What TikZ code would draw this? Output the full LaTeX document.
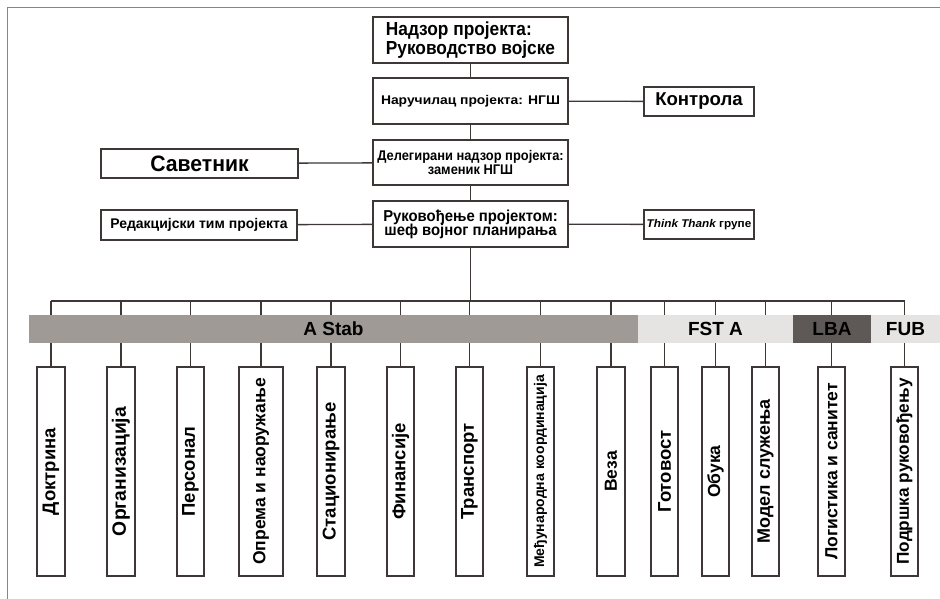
\documentclass[tikz,border=0pt]{standalone}
\usepackage{fontspec}
\setmainfont{Liberation Sans}
\newfontfamily\fsA[FakeStretch=0.915]{Liberation Sans}
\newfontfamily\fsB[FakeStretch=1.10]{Liberation Sans}
\newfontfamily\fsC[FakeStretch=0.92]{Liberation Sans}
\newfontfamily\fsD[FakeStretch=0.94]{Liberation Sans}
\newfontfamily\fsE[FakeStretch=0.95]{Liberation Sans}
\newfontfamily\fsF[FakeStretch=1.05]{Liberation Sans}
\newcommand\tightls{\lineskiplimit=-30pt\relax}
\definecolor{ln}{HTML}{3D3735}
\definecolor{frm}{HTML}{8A8580}
\definecolor{astab}{HTML}{A09A96}
\definecolor{light}{HTML}{E6E4E2}
\definecolor{lba}{HTML}{5E5956}
\tikzset{
  box/.style={draw=ln,line width=1.3pt,fill=white,inner sep=0pt,align=center,font=\bfseries},
  vbox/.style={box,minimum height=209pt},
  vtext/.style={rotate=90,inner sep=0pt,font=\bfseries},
  conn/.style={draw=ln,line width=1.3pt},
  band/.style={inner sep=0pt,minimum height=28pt,font=\bfseries\fontsize{19}{22}\selectfont}
}
\begin{document}
\begin{tikzpicture}[x=1pt,y=-1pt]
\useasboundingbox (0,0) rectangle (940,599);
\draw[frm,line width=1pt] (7,599) -- (7,8) -- (940,8);
% top chain
\node[box,align=left,minimum width=195pt,minimum height=46pt,font={\fsA\bfseries\fontsize{18.9}{18.5}\selectfont\tightls}] (top) at (470.5,40) {Надзор пројекта:\\Руководство војске};
\node[box,minimum width=195pt,minimum height=46pt,font={\fsB\bfseries\fontsize{12.6}{14}\selectfont}] (nar) at (470.5,101) {Наручилац пројекта: НГШ};
\node[box,minimum width=195pt,minimum height=45pt,font={\fsC\bfseries\fontsize{14}{14}\selectfont\tightls}] (del) at (470.5,162.5) {Делегирани надзор пројекта:\\заменик НГШ};
\node[box,minimum width=195pt,minimum height=46pt,font={\fsD\bfseries\fontsize{15.8}{14}\selectfont\tightls}] (ruk) at (470.5,224) {Руковођење пројектом:\\шеф војног планирања};
\node[box,minimum width=110pt,minimum height=29pt,font={\bfseries\fontsize{18.6}{20}\selectfont}] (kon) at (699,101.5) {Контрола};
\node[box,minimum width=110pt,minimum height=29pt,font={\fsF\bfseries\fontsize{11.2}{13}\selectfont}] (think) at (699,224.5) {\itshape Think Thank\upshape{} групе};
\node[box,minimum width=197pt,minimum height=29pt,font={\fsE\bfseries\fontsize{22.3}{24}\selectfont}] (sav) at (199.5,163.5) {Саветник};
\node[box,minimum width=196pt,minimum height=30pt,font={\bfseries\fontsize{14}{16}\selectfont}] (red) at (199,225) {Редакцијски тим пројекта};
\draw[conn] (top) -- (nar);
\draw[conn] (nar) -- (del);
\draw[conn] (del) -- (ruk);
\draw[conn] (nar) -- (kon);
\draw[conn] (del) -- (sav);
\draw[conn] (ruk) -- (red);
\draw[conn] (ruk) -- (think);
\coordinate (bus) at (470.5,301);
\draw[conn] (ruk.south) -- (ruk.south |- bus);
% vertical boxes
\foreach \n/\x/\w/\s/\t in {
 d1/51/28/18.5/Доктрина,
 d2/121/28/19.3/Организација,
 d3/190.5/27/18.5/Персонал,
 d4/261/44/17.5/Опрема и наоружање,
 d5/331/28/18.5/Стационирање,
 d6/400.5/27/18.5/Финансије,
 d7/469.5/27/18.5/Транспорт,
 d8/540.5/27/14/Међународна координација,
 d9/611/28/17.5/Веза,
 d10/664.5/27/18.5/Готовост,
 d11/715.5/27/17.5/Обука,
 d12/765.5/27/18/Модел служења,
 d13/831.5/27/17.5/Логистика и санитет,
 d14/904.5/27/17.2/Подршка руковођењу}{
  \node[vbox,minimum width=\w pt] (\n) at (\x,471.5) {};
  \node[vtext,font={\bfseries\fontsize{\s}{\s}\selectfont}] (\n t) at (\n.center) {\t};
  \draw[conn] (\n.north) -- (\n.north |- bus);
}
\draw[conn] (d1.north |- bus) -- (d14.north |- bus);
% bands
\node[band,fill=astab,minimum width=609pt] (ast) at (333.5,329) {A Stab};
\node[band,fill=light,minimum width=155pt] (fst) at (715.5,329) {FST A};
\node[band,fill=lba,minimum width=78pt] (lbab) at (832,329) {LBA};
\node[band,fill=light,minimum width=69pt] (fub) at (905.5,329) {FUB};
\end{tikzpicture}
\end{document}
